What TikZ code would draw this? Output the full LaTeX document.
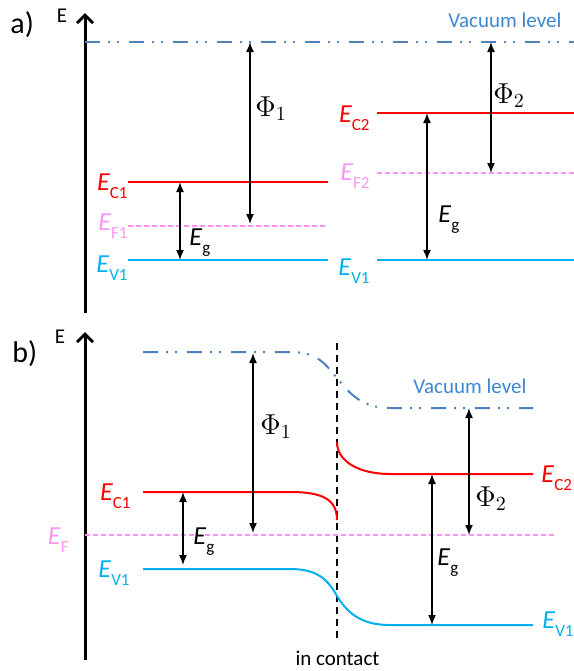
\documentclass[tikz,border=0pt]{standalone}
\usepackage{fontspec}
\setmainfont{Carlito}
\usepackage{tikz}
\usetikzlibrary{arrows.meta}
\definecolor{condred}{RGB}{255,0,0}
\definecolor{valblue}{RGB}{0,176,240}
\definecolor{fermipink}{RGB}{250,150,245}
\definecolor{vacblue}{RGB}{79,129,189}
\definecolor{vactext}{RGB}{60,135,210}
\newcommand{\bandE}[1]{\textit{E}\raisebox{-4pt}{\fontsize{8.5}{9}\selectfont #1}}
\tikzset{
  energy-axis/.style={line width=1.5pt, -{Straight Barb[length=4pt,width=8pt]}},
  vac-level/.style={draw=vacblue, line width=1pt,
    dash pattern=on 7.5pt off 4pt on 1pt off 3.5pt on 1pt off 5pt},
  cond-band/.style={draw=condred, line width=1pt},
  val-band/.style={draw=valblue, line width=1pt},
  fermi-level/.style={draw=fermipink, line width=0.85pt, dash pattern=on 2.5pt off 1.5pt},
  gap-arrow/.style={{Latex[length=5pt,width=4pt]}-{Latex[length=5pt,width=4pt]}, line width=0.75pt},
  contact-line/.style={line width=1pt, dash pattern=on 3.5pt off 2.5pt},
  band-label/.style={font=\fontsize{13}{15}\selectfont, inner sep=0pt},
  phi-label/.style={font=\fontsize{14}{16}\selectfont, inner sep=0pt, anchor=base west},
  panel-label/.style={font=\fontsize{15}{18}\selectfont, inner sep=0pt, anchor=base west},
  axis-label/.style={font=\fontsize{10.5}{12}\selectfont, inner sep=0pt, anchor=base},
  vac-label/.style={font=\fontsize{10.5}{12}\selectfont, text=vactext, inner sep=0pt, anchor=base west}
}

\begin{document}
\begin{tikzpicture}[x=0.5pt, y=-0.5pt]
  \useasboundingbox (0,0) rectangle (574,671);

  % a) before contact
  \node[panel-label] (lab-a) at (10,33) {a)};
  \node[axis-label] (axis-a-E) at (62,22) {E};
  \coordinate (axis-a-bot) at (85,313);
  \coordinate (axis-a-top) at (85,13);
  \draw[energy-axis] (axis-a-bot) -- (axis-a-top);

  \draw[vac-level] (85,42) -- (574,42);
  \node[vac-label] (vac-a) at (448,27) {Vacuum level};

  % material 1
  \draw[cond-band] (128,182) -- (328,182);
  \draw[fermi-level] (128,226) -- (328,226);
  \draw[val-band] (128,260) -- (328,260);
  \node[band-label, text=condred, anchor=base east] (ec1-a) at (128,190) {\bandE{C1}};
  \node[band-label, text=fermipink, anchor=base east] (ef1-a) at (128,230) {\bandE{F1}};
  \node[band-label, text=valblue, anchor=base east] (ev1-a) at (128,272) {\bandE{V1}};

  \coordinate (eg1-a-top) at (180,182);
  \coordinate (eg1-a-bot) at (180,260);
  \draw[gap-arrow] (eg1-a-top) -- (eg1-a-bot);
  \node[band-label, anchor=base west] (eg1-a) at (189,245) {\bandE{g}};

  \coordinate (phi1-a-top) at (250,42);
  \coordinate (phi1-a-bot) at (250,224);
  \draw[gap-arrow] (phi1-a-top) -- (phi1-a-bot);
  \node[phi-label] (phi1-a) at (255,116) {$\Phi_1$};

  % material 2
  \draw[cond-band] (377,113) -- (574,113);
  \draw[fermi-level] (377,173) -- (574,173);
  \draw[val-band] (377,260) -- (574,260);
  \node[band-label, text=condred, anchor=base east] (ec2-a) at (370,122) {\bandE{C2}};
  \node[band-label, text=fermipink, anchor=base east] (ef2-a) at (370,180) {\bandE{F2}};
  \node[band-label, text=valblue, anchor=base east] (ev2-a) at (370,275) {\bandE{V1}};

  \coordinate (eg2-a-top) at (427,113);
  \coordinate (eg2-a-bot) at (427,260);
  \draw[gap-arrow] (eg2-a-top) -- (eg2-a-bot);
  \node[band-label, anchor=base west] (eg2-a) at (438,222) {\bandE{g}};

  \coordinate (phi2-a-top) at (491,42);
  \coordinate (phi2-a-bot) at (491,173);
  \draw[gap-arrow] (phi2-a-top) -- (phi2-a-bot);
  \node[phi-label] (phi2-a) at (493,103) {$\Phi_2$};

  % b) in contact
  \node[panel-label] (lab-b) at (12,362) {b)};
  \node[axis-label] (axis-b-E) at (60,343) {E};
  \coordinate (axis-b-bot) at (85,660);
  \coordinate (axis-b-top) at (85,332);
  \draw[energy-axis] (axis-b-bot) -- (axis-b-top);

  \coordinate (contact-top) at (337,343);
  \coordinate (contact-bot) at (337,642);
  \draw[contact-line] (contact-top) -- (contact-bot);
  \node[font=\fontsize{10.5}{12}\selectfont, inner sep=0pt, anchor=base] (contact) at (337.5,665) {in contact};

  % bent levels
  \draw[vac-level] (143,352) -- (290,352)
    .. controls (318,352) and (325,364) .. (337,378)
    .. controls (350,394) and (362,408) .. (390,408) -- (533,408);
  \node[vac-label] (vac-b) at (413,393) {Vacuum level};

  \draw[cond-band] (143,492) -- (290,492) .. controls (322,492) and (337,499) .. (337,520);
  \draw[cond-band] (337,442) .. controls (337,462) and (360,474) .. (390,474) -- (533,474);
  \draw[fermi-level] (85,535) -- (557,535);
  \draw[val-band] (143,569) -- (290,569)
    .. controls (318,569) and (328,580) .. (337,596)
    .. controls (348,614) and (362,625) .. (390,625) -- (533,625);

  \node[band-label, text=condred, anchor=base east] (ec1-b) at (131,500) {\bandE{C1}};
  \node[band-label, text=fermipink, anchor=base east] (ef-b) at (69,544) {\bandE{F}};
  \node[band-label, text=valblue, anchor=base east] (ev1-b) at (130,577) {\bandE{V1}};
  \node[band-label, text=condred, anchor=base west] (ec2-b) at (541,482) {\bandE{C2}};
  \node[band-label, text=valblue, anchor=base west] (ev2-b) at (542,628) {\bandE{V1}};

  \coordinate (eg1-b-top) at (183,492);
  \coordinate (eg1-b-bot) at (183,565);
  \draw[gap-arrow] (eg1-b-top) -- (eg1-b-bot);
  \node[band-label, anchor=base west] (eg1-b) at (193,544) {\bandE{g}};

  \coordinate (phi1-b-top) at (253,353);
  \coordinate (phi1-b-bot) at (253,533);
  \draw[gap-arrow] (phi1-b-top) -- (phi1-b-bot);
  \node[phi-label] (phi1-b) at (260,434) {$\Phi_1$};

  \coordinate (eg2-b-top) at (432,474);
  \coordinate (eg2-b-bot) at (432,625);
  \draw[gap-arrow] (eg2-b-top) -- (eg2-b-bot);
  \node[band-label, anchor=base west] (eg2-b) at (437,565) {\bandE{g}};

  \coordinate (phi2-b-top) at (469,408);
  \coordinate (phi2-b-bot) at (469,535);
  \draw[gap-arrow] (phi2-b-top) -- (phi2-b-bot);
  \node[phi-label] (phi2-b) at (475,506) {$\Phi_2$};
\end{tikzpicture}
\end{document}
